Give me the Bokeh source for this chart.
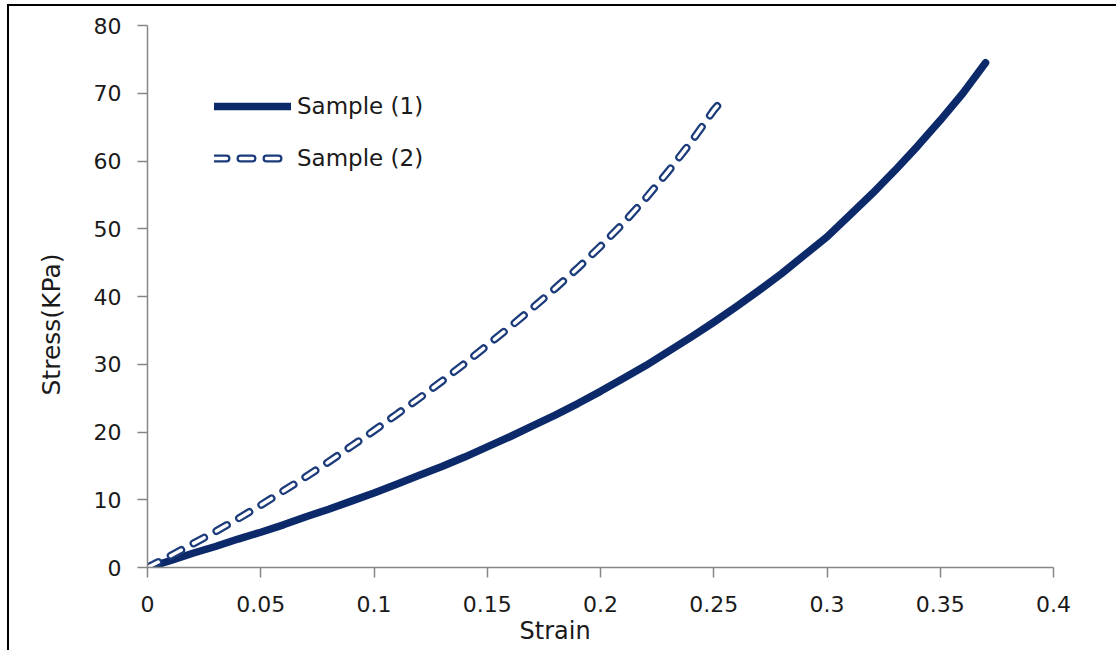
from bokeh.plotting import figure
from bokeh.models import Range1d, FixedTicker, Legend, LegendItem, Title
from bokeh.embed import file_html
from bokeh.resources import INLINE

# Stress-strain data for the two samples
strain_1 = [0.00, 0.01, 0.02, 0.03, 0.04, 0.05, 0.06, 0.07, 0.08, 0.09,
            0.10, 0.11, 0.12, 0.13, 0.14, 0.15, 0.16, 0.17, 0.18, 0.19,
            0.20, 0.21, 0.22, 0.23, 0.24, 0.25, 0.26, 0.27, 0.28, 0.29,
            0.30, 0.31, 0.32, 0.33, 0.34, 0.35, 0.36, 0.37]
stress_1 = [0.0, 1.0, 2.1, 3.1, 4.2, 5.2, 6.3, 7.5, 8.6, 9.8,
            11.0, 12.3, 13.6, 14.9, 16.3, 17.8, 19.3, 20.9, 22.5, 24.2,
            26.0, 27.9, 29.8, 31.9, 34.0, 36.2, 38.5, 40.9, 43.4, 46.1,
            48.8, 52.0, 55.2, 58.6, 62.2, 66.0, 70.0, 74.5]

strain_2 = [0.00, 0.01, 0.02, 0.03, 0.04, 0.05, 0.06, 0.07, 0.08, 0.09,
            0.10, 0.11, 0.12, 0.13, 0.14, 0.15, 0.16, 0.17, 0.18, 0.19,
            0.20, 0.21, 0.22, 0.23, 0.24, 0.25, 0.255]
stress_2 = [0.0, 1.7, 3.5, 5.3, 7.2, 9.2, 11.3, 13.4, 15.6, 17.9,
            20.2, 22.6, 25.0, 27.5, 30.1, 32.8, 35.5, 38.3, 41.2, 44.2,
            47.4, 50.8, 54.5, 58.5, 62.8, 67.5, 69.5]

x_ticks = [0, 0.05, 0.1, 0.15, 0.2, 0.25, 0.3, 0.35, 0.4]
x_tick_labels = ["0", "0.05", "0.1", "0.15", "0.2", "0.25", "0.3", "0.35", "0.4"]
y_ticks = [0, 10, 20, 30, 40, 50, 60, 70, 80]

FONT = "DejaVu Sans"
NAVY = "#0c2a6a"
AXIS = "#868686"
TEXT = "#1a1a1a"

p = figure(width=1109, height=646, output_backend="svg", toolbar_location=None,
           x_range=Range1d(0, 0.4), y_range=Range1d(0, 80),
           min_border_left=137, min_border_right=65,
           min_border_top=19, min_border_bottom=85)
p.styles = {"border-top": "2px solid black", "border-left": "2px solid black",
            "margin-left": "7px", "margin-top": "4px"}

p.outline_line_color = None
p.grid.visible = False
p.background_fill_color = "white"
p.border_fill_color = "white"

for ax in (p.xaxis[0], p.yaxis[0]):
    ax.axis_line_color = AXIS
    ax.axis_line_width = 1.5
    ax.major_tick_line_color = AXIS
    ax.major_tick_line_width = 1.5
    ax.major_tick_in = 0
    ax.major_tick_out = 10
    ax.minor_tick_line_color = None
    ax.major_label_text_font = FONT
    ax.major_label_text_font_size = "22px"
    ax.major_label_text_color = TEXT

p.xaxis.ticker = FixedTicker(ticks=x_ticks)
p.xaxis.major_label_overrides = dict(zip(x_ticks, x_tick_labels))
p.xaxis.major_label_standoff = 18
p.yaxis.ticker = FixedTicker(ticks=y_ticks)
p.yaxis.major_label_standoff = 16

# Axis titles as side titles, so they can be shifted along their axis
p.add_layout(Title(text="Strain", align="left", offset=372, standoff=0,
                   text_font=FONT, text_font_size="24px", text_color=TEXT,
                   text_font_style="normal"), "below")
p.add_layout(Title(text="Stress(KPa)", align="left", offset=172, standoff=50,
                   text_font=FONT, text_font_size="25px", text_color=TEXT,
                   text_font_style="normal"), "left")

# Sample (1): thick solid curve
r1 = p.line(strain_1, stress_1, line_color=NAVY, line_width=7.5, line_cap="round",
            line_join="round")

# Sample (2): outlined dashes (dark dashed stroke with a white core)
r2a = p.line(strain_2, stress_2, line_color="#1b3b7b", line_width=8, line_cap="round",
             line_join="round", line_dash="12 14")
r2b = p.line(strain_2, stress_2, line_color="white", line_width=3.5, line_cap="round",
             line_join="round", line_dash="12 14")

legend = Legend(items=[LegendItem(label="Sample (1)", renderers=[r1]),
                       LegendItem(label="Sample (2)", renderers=[r2a, r2b])],
                location=(67, 396))
legend.border_line_color = None
legend.background_fill_alpha = 0
legend.padding = 0
legend.margin = 0
legend.glyph_width = 77
legend.glyph_height = 26
legend.label_height = 26
legend.label_standoff = 6
legend.spacing = 26
legend.label_text_font = FONT
legend.label_text_font_size = "23px"
legend.label_text_color = TEXT
p.add_layout(legend)

open("out.html", "w").write(file_html(p, INLINE))
